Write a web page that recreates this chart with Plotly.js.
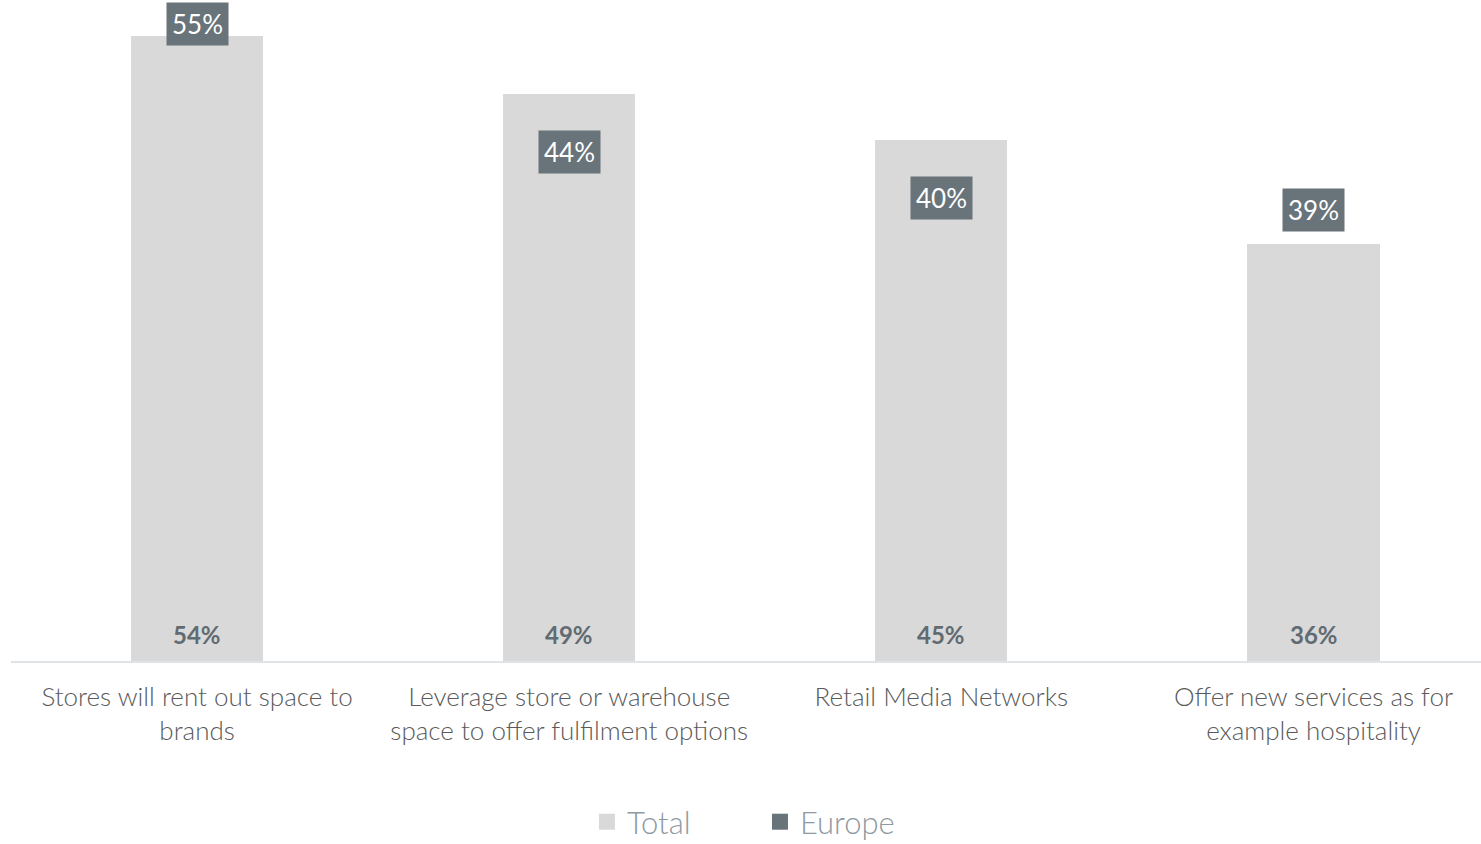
<!DOCTYPE html>
<html>
<head>
<meta charset="utf-8">
<script src="https://cdn.plot.ly/plotly-3.0.1.min.js"></script>
<style>html,body{margin:0;padding:0;background:#fff;}#chart{width:1481px;height:844px;}</style>
</head>
<body>
<div id="chart"></div>
<script>
const categories = [
  "Stores will rent out space to<br>brands",
  "Leverage store or warehouse<br>space to offer fulfilment options",
  "Retail Media Networks",
  "Offer new services as for<br>example hospitality"
];
const totalValues = [54, 49, 45, 36];
const europeValues = [55, 44, 40, 39];
const seriesNames = ["Total", "Europe"];

const totalColor = "#d9d9d9";
const europeColor = "#68737a";
const idx = categories.map((c, i) => i);

const traces = [
  {
    type: "bar", x: idx, y: totalValues, name: seriesNames[0],
    marker: {color: totalColor}, width: 0.355, showlegend: false, hoverinfo: "skip"
  },
  {
    type: "scatter", mode: "markers", x: [null], y: [null], name: seriesNames[0],
    marker: {symbol: "square", size: 17, color: totalColor}, showlegend: true
  },
  {
    type: "scatter", mode: "markers", x: idx, y: europeValues, name: seriesNames[1],
    marker: {symbol: "square", size: 17, color: europeColor}, hoverinfo: "skip"
  }
];

const annotations = [];
totalValues.forEach((v, i) => {
  annotations.push({
    x: i, y: 0, xref: "x", yref: "y", yanchor: "bottom", yshift: 10,
    text: v + "%", showarrow: false,
    font: {family: "Lato, sans-serif", size: 24, weight: 700, color: "#616b72"}
  });
});
europeValues.forEach((v, i) => {
  annotations.push({
    x: i, y: v, xref: "x", yref: "y", yanchor: "middle",
    text: v + "%", showarrow: false, bgcolor: europeColor, borderpad: 5,
    font: {family: "Lato, sans-serif", size: 26, weight: 400, color: "#ffffff"}
  });
});

const layout = {
  width: 1481, height: 844,
  margin: {l: 11, r: 0, t: 0, b: 183},
  paper_bgcolor: "#ffffff", plot_bgcolor: "#ffffff",
  xaxis: {
    range: [-0.5, 3.45], tickvals: idx, ticktext: categories,
    showgrid: false, zeroline: false, showline: true, linecolor: "#e1e4e7", linewidth: 2,
    ticks: "", ticklabelstandoff: 12, automargin: false,
    tickfont: {family: "Lato, sans-serif", size: 26, weight: 300, color: "#5a5a5a"}
  },
  yaxis: {range: [0, 57.1], visible: false, showgrid: false, zeroline: false, automargin: false},
  showlegend: true,
  legend: {
    orientation: "h", x: 0.5095, xanchor: "center",
    yref: "container", y: 0.026, yanchor: "middle",
    font: {family: "Lato, sans-serif", size: 31, weight: 300, color: "#8e99a1"},
    itemwidth: 30, entrywidth: 128, bgcolor: "rgba(0,0,0,0)"
  },
  annotations: annotations,
  bargap: 0
};

Plotly.newPlot("chart", traces, layout, {displayModeBar: false, staticPlot: true});
</script>
</body>
</html>
